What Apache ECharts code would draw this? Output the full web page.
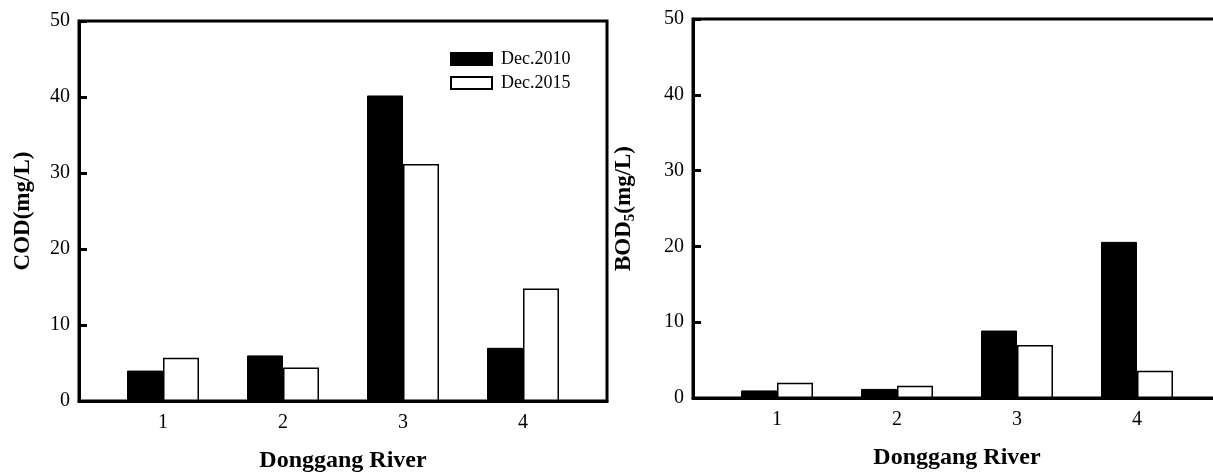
<!DOCTYPE html>
<html>
<head>
<meta charset="utf-8">
<script src="https://cdn.jsdelivr.net/npm/echarts@6/dist/echarts.min.js"></script>
<style>
html,body{margin:0;padding:0;background:#fff;}
#c{width:1213px;height:475px;}
</style>
</head>
<body>
<div id="c"></div>
<script>
var categories = [1, 2, 3, 4];
var seriesNames = ['Dec.2010', 'Dec.2015'];
var codDec2010 = [4.0, 6.0, 40.2, 7.0];
var codDec2015 = [5.7, 4.4, 31.2, 14.8];
var bodDec2010 = [1.0, 1.2, 8.9, 20.6];
var bodDec2015 = [2.0, 1.6, 7.0, 3.6];
var yMin = 0, yMax = 50, yStep = 10;
var xName = 'Donggang River';

var FONT = "'Liberation Serif', 'Times New Roman', serif";

function pairs(vals) {
  return categories.map(function (c, i) { return [c, vals[i]]; });
}

function xAxisCfg(gi) {
  return {
    type: 'value', gridIndex: gi, min: 0.3, max: 4.7,
    name: xName, nameLocation: 'middle', nameGap: 48,
    nameTextStyle: { fontFamily: FONT, fontWeight: 'bold', fontSize: 24, color: '#000' },
    axisLine: { show: true, onZero: false, lineStyle: { color: '#000', width: 3 } },
    axisTick: { show: false },
    splitLine: { show: false },
    axisLabel: { customValues: categories, margin: 12, fontFamily: FONT, fontSize: 20, color: '#000' }
  };
}

function yAxisCfg(gi, name, gap) {
  return {
    type: 'value', gridIndex: gi, min: yMin, max: yMax, interval: yStep,
    name: name, nameLocation: 'middle', nameGap: gap, nameRotate: 90,
    nameTextStyle: {
      fontFamily: FONT, fontWeight: 'bold', fontSize: 23, color: '#000',
      rich: {
        b: { fontFamily: FONT, fontWeight: 'bold', fontSize: 23, color: '#000' },
        s: { fontFamily: FONT, fontWeight: 'bold', fontSize: 15, color: '#000', padding: [12, 0, 0, 0] }
      }
    },
    axisLine: { show: true, lineStyle: { color: '#000', width: 3 } },
    axisTick: { show: true, inside: true, length: 8, lineStyle: { color: '#000', width: 3 } },
    splitLine: { show: false },
    axisLabel: { margin: 9, fontFamily: FONT, fontSize: 20, color: '#000' }
  };
}

var blackStyle = { color: '#000', borderColor: '#000', borderWidth: 1 };
var whiteStyle = { color: '#fff', borderColor: '#000', borderWidth: 1.5 };

var option = {
  backgroundColor: '#fff',
  animation: false,
  grid: [
    { left: 79, top: 21, width: 528, height: 380, show: true, borderColor: '#000', borderWidth: 3, backgroundColor: 'transparent', containLabel: false, outerBoundsMode: 'none' },
    { left: 693, top: 19, width: 528, height: 379, show: true, borderColor: '#000', borderWidth: 3, backgroundColor: 'transparent', containLabel: false, outerBoundsMode: 'none' }
  ],
  legend: {
    left: 450, top: 50, orient: 'vertical', padding: 0,
    itemWidth: 41, itemHeight: 12, itemGap: 6,
    icon: 'rect',
    data: seriesNames,
    textStyle: { fontFamily: FONT, fontSize: 18, color: '#000', padding: [0, 0, 0, 4] }
  },
  xAxis: [xAxisCfg(0), xAxisCfg(1)],
  yAxis: [
    yAxisCfg(0, 'COD(mg/L)', 44),
    yAxisCfg(1, '{b|BOD}{s|5}{b|(mg/L)}', 55)
  ],
  series: [
    { name: seriesNames[0], type: 'bar', xAxisIndex: 0, yAxisIndex: 0, barWidth: 36, barGap: '0%', itemStyle: blackStyle, data: pairs(codDec2010) },
    { name: seriesNames[1], type: 'bar', xAxisIndex: 0, yAxisIndex: 0, barWidth: 36, barGap: '0%', itemStyle: whiteStyle, data: pairs(codDec2015) },
    { name: 'b' + seriesNames[0], type: 'bar', xAxisIndex: 1, yAxisIndex: 1, barWidth: 36, barGap: '0%', itemStyle: blackStyle, data: pairs(bodDec2010) },
    { name: 'b' + seriesNames[1], type: 'bar', xAxisIndex: 1, yAxisIndex: 1, barWidth: 36, barGap: '0%', itemStyle: whiteStyle, data: pairs(bodDec2015) }
  ]
};

var chart = echarts.init(document.getElementById('c'), null, { renderer: 'canvas' });
chart.setOption(option);
</script>
</body>
</html>
